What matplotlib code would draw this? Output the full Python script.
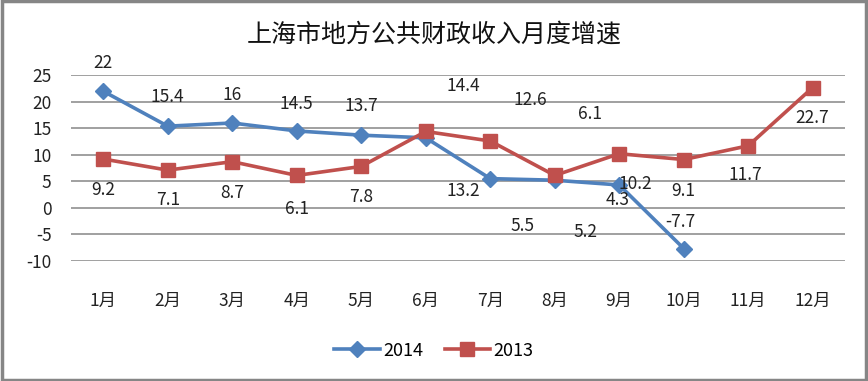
import numpy as np
import matplotlib.pyplot as plt
from matplotlib.patches import Rectangle

plt.rcParams['font.family'] = ['Noto Sans CJK SC', 'DejaVu Sans']
plt.rcParams['axes.unicode_minus'] = False

# données
months = ['1月', '2月', '3月', '4月', '5月', '6月', '7月', '8月', '9月', '10月', '11月', '12月']
v2014 = [22, 15.4, 16, 14.5, 13.7, 13.2, 5.5, 5.2, 4.3, -7.7]
v2013 = [9.2, 7.1, 8.7, 6.1, 7.8, 14.4, 12.6, 6.1, 10.2, 9.1, 11.7, 22.7]
yticks = [-10, -5, 0, 5, 10, 15, 20, 25]

# positions des étiquettes (comme dans le graphique d'origine, décalées)
lab2014_x = [0, 1, 2, 3, 4, 5.58, 6.5, 7.47, 7.98, 8.95]
lab2014_y = [27.4, 20.9, 21.2, 19.5, 19.2, 3.2, -3.4, -4.5, 1.5, -2.6]
lab2013_x = [0, 1, 2, 3, 4, 5.58, 6.62, 7.55, 8.25, 9.0, 9.96, 10.99]
lab2013_y = [3.4, 1.5, 2.8, -0.2, 2.1, 22.9, 20.3, 17.7, 4.5, 3.2, 6.2, 16.9]

blue = '#4F81BD'
red = '#C0504D'

fig = plt.figure(figsize=(8.68, 3.81), dpi=100)
ax = fig.add_axes([0.0818, 0.315, 0.8917, 0.488])

x = np.arange(len(months))
ax.plot(x[:len(v2014)], v2014, color=blue, lw=2.6, marker='D', ms=8,
        label='2014', zorder=3)
ax.plot(x, v2013, color=red, lw=2.6, marker='s', ms=10,
        label='2013', zorder=3)

for xx, yy, v in zip(lab2014_x, lab2014_y, v2014):
    ax.text(xx, yy, f'{v:g}', ha='center', va='center', fontsize=12.5,
            color='#222222', zorder=4, clip_on=False)
for xx, yy, v in zip(lab2013_x, lab2013_y, v2013):
    ax.text(xx, yy, f'{v:g}', ha='center', va='center', fontsize=12.5,
            color='#222222', zorder=4, clip_on=False)

ax.set_xlim(-0.5, 11.5)
ax.set_ylim(-10.05, 25.05)
ax.set_yticks(yticks)
ax.set_xticks(x)
ax.set_xticklabels(months)
ax.grid(axis='y', color='#868686', lw=1.1)
ax.set_axisbelow(True)
for s in ax.spines.values():
    s.set_visible(False)
ax.tick_params(axis='both', length=0, labelsize=12.5, colors='#222222')
ax.tick_params(axis='x', pad=22)
ax.tick_params(axis='y', pad=14)

fig.text(0.5, 0.908, '上海市地方公共财政收入月度增速', ha='center', va='center',
         fontsize=18, color='#111111')

ax.legend(loc='center', bbox_to_anchor=(0.5, 0.08), bbox_transform=fig.transFigure,
          ncol=2, frameon=False, fontsize=13, handlelength=2.5,
          columnspacing=1.2, handletextpad=0.2)

fig.patches.append(Rectangle((0.002, 0.003), 0.996, 0.994, transform=fig.transFigure,
                             fill=False, edgecolor='#868686', lw=2.5))

plt.savefig('out.png', dpi=100)
